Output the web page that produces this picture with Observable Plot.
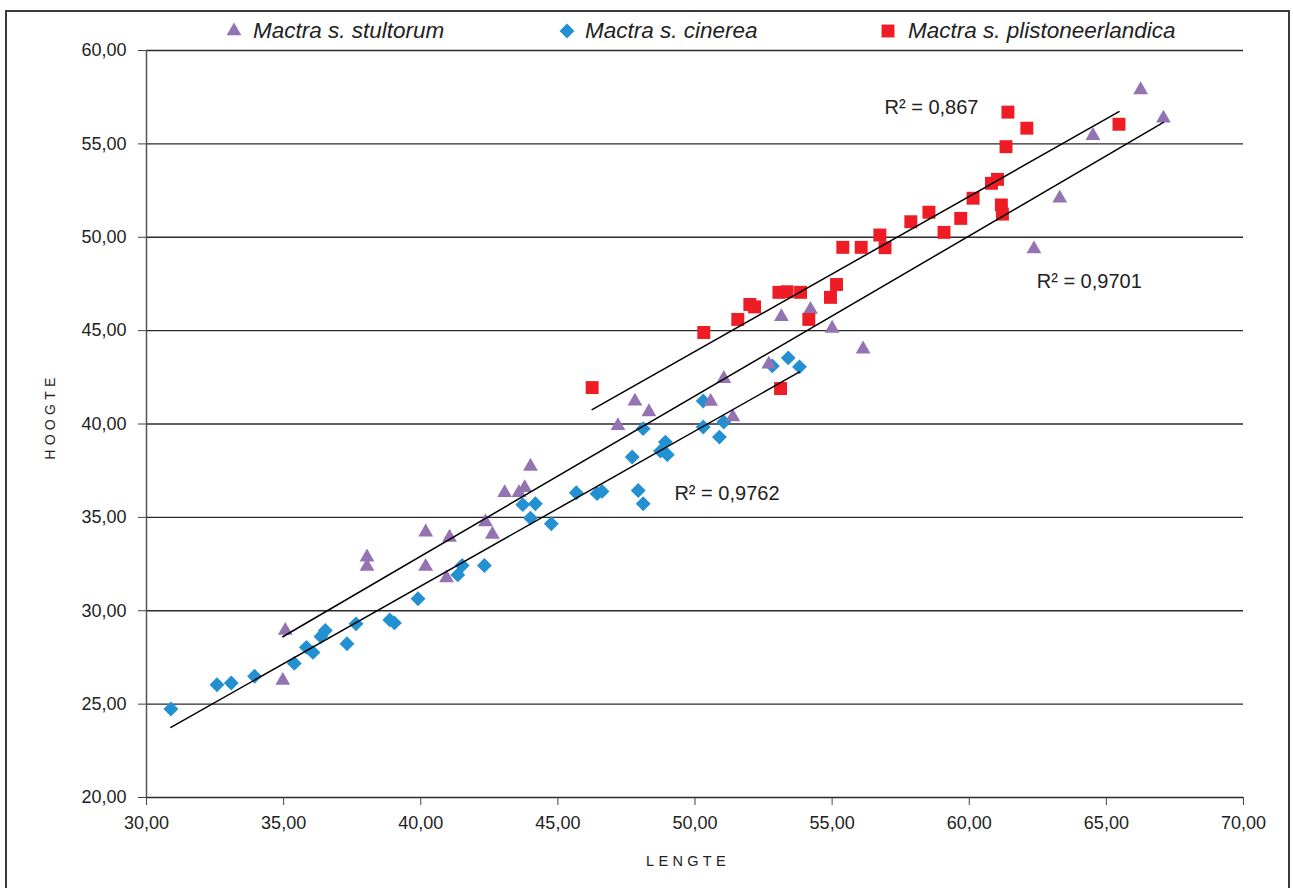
<!DOCTYPE html>
<html>
<head>
<meta charset="utf-8">
<script src="https://cdn.jsdelivr.net/npm/d3@7"></script>
<script src="https://cdn.jsdelivr.net/npm/@observablehq/plot@0.6"></script>
<style>
  html, body { margin: 0; padding: 0; background: #fff; overflow: hidden; }
  #wrap { position: relative; width: 1293px; height: 888px; font-family: "Liberation Sans", Arial, sans-serif; }
  #frame { position: absolute; left: 5px; top: 10px; width: 1285px; height: 900px; border: 2px solid #3a3a3a; box-sizing: border-box; pointer-events: none; }
  #chart { position: absolute; left: 0; top: 0; }
  .legend-item { position: absolute; top: 16px; height: 30px; display: flex; align-items: center; font-style: italic; font-size: 22.5px; color: #222; white-space: nowrap; }
  .spaced text { letter-spacing: 4.3px; }
</style>
</head>
<body>
<div id="wrap">
  <div id="chart"></div>
  <div id="legend"></div>
  <div id="frame"></div>
</div>
<script>
// ---- data (LENGTE = length, HOOGTE = height) ----
const species = ["Mactra s. stultorum", "Mactra s. cinerea", "Mactra s. plistoneerlandica"];

const stultorumL = [35.06,34.97,38.04,38.04,40.18,40.18,41.05,40.94,42.36,42.61,43.06,43.58,43.79,44.00,47.19,47.81,48.32,51.05,50.57,51.38,52.69,53.15,54.21,55.00,56.13,62.36,63.30,64.51,66.25,67.08];
const stultorumH = [28.94,26.26,32.87,32.37,34.21,32.37,33.93,31.76,34.75,34.09,36.32,36.32,36.59,37.73,39.91,41.22,40.65,42.43,41.20,40.37,43.20,45.74,46.13,45.12,44.01,49.37,52.09,55.44,57.89,56.37];

const cinereaL = [30.89,32.57,33.09,33.94,35.39,35.83,36.07,36.36,36.52,37.31,37.64,38.87,39.04,39.90,41.35,41.51,42.32,43.72,44.00,44.18,44.76,45.67,46.43,46.61,47.71,47.93,48.11,48.11,48.74,48.92,48.99,50.30,50.30,50.89,51.05,52.82,53.40,53.81];
const cinereaH = [24.74,26.04,26.13,26.49,27.18,28.04,27.77,28.62,28.94,28.23,29.30,29.51,29.35,30.64,31.92,32.42,32.42,35.68,34.96,35.73,34.66,36.32,36.27,36.39,38.23,36.44,35.73,39.75,38.55,39.03,38.36,41.23,39.84,39.30,40.11,43.11,43.54,43.06];

const plistL = [46.25,50.32,51.56,52.00,52.17,53.06,53.36,53.85,54.15,54.94,55.16,53.12,55.39,56.06,56.74,56.93,57.87,58.53,59.08,59.69,60.14,60.81,61.03,61.17,61.21,61.34,61.41,62.10,65.46];
const plistH = [41.95,44.90,45.60,46.40,46.27,47.05,47.08,47.05,45.60,46.78,47.47,41.90,49.46,49.46,50.12,49.44,50.83,51.34,50.26,51.01,52.09,52.89,53.10,51.73,51.24,54.85,56.70,55.84,56.05];

const xTicks = [30,35,40,45,50,55,60,65,70];
const yTicks = [20,25,30,35,40,45,50,55,60];

const r2Text = ["R² = 0,867", "R² = 0,9701", "R² = 0,9762"];
const r2L = [56.91, 62.46, 49.25];
const r2H = [56.93, 47.60, 36.28];

const colors = ["#9473b3", "#2390d2", "#ee1d25"];
const symbols = ["triangle", "diamond2", "square"];
const radii = [5.5, 6.7, 7.3];

// ---- build tables ----
const seriesL = [stultorumL, cinereaL, plistL];
const seriesH = [stultorumH, cinereaH, plistH];
const tables = species.map((s, i) => seriesL[i].map((L, j) => ({species: s, L, H: seriesH[i][j]})));
const allData = tables.flat();
const r2 = r2Text.map((t, i) => ({t, L: r2L[i], H: r2H[i]}));

const fmt = d => d.toFixed(2).replace(".", ",");
const drawOrder = [1, 0, 2];

const chart = Plot.plot({
  width: 1293,
  height: 888,
  marginLeft: 146,
  marginRight: 50,
  marginTop: 50,
  marginBottom: 91,
  style: {fontFamily: "'Liberation Sans', Arial, sans-serif", background: "transparent"},
  x: {domain: [30, 70]},
  y: {domain: [20, 60]},
  marks: [
    Plot.ruleY(yTicks, {stroke: "#2a2a2a", strokeWidth: 1.4}),
    Plot.ruleX([30], {stroke: "#555", strokeWidth: 1.5}),
    Plot.axisX(xTicks, {tickSize: 8, tickPadding: 11, fontSize: 18, tickFormat: fmt, stroke: "#444", fill: "#222", label: null}),
    Plot.axisY(yTicks, {tickSize: 8, tickPadding: 12, fontSize: 18, tickFormat: fmt, stroke: "#444", fill: "#222", label: null}),
    ...drawOrder.map(i => Plot.dot(tables[i], {x: "L", y: "H", symbol: () => symbols[i], r: radii[i], fill: colors[i], stroke: "none"})),
    Plot.linearRegressionY(allData, {x: "L", y: "H", z: "species", stroke: "#000", strokeWidth: 1.5, ci: 0}),
    Plot.text(r2, {x: "L", y: "H", text: "t", textAnchor: "start", fontSize: 20, fill: "#222"}),
    Plot.text(["HOOGTE"], {frameAnchor: "left", textAnchor: "middle", lineAnchor: "middle", dx: -96, dy: -7.5, rotate: -90, fontSize: 14, fill: "#222", className: "spaced"}),
    Plot.text(["LENGTE"], {frameAnchor: "bottom", textAnchor: "middle", lineAnchor: "middle", dx: -7, dy: 63.5, fontSize: 14.5, fill: "#222", className: "spaced"})
  ]
});
document.getElementById("chart").appendChild(chart);

// ---- legend ----
const legendSymbolX = [234, 567, 888];
const legendTextX = [253, 585, 908];
const symGen = [d3.symbolTriangle, d3.symbolDiamond2, d3.symbolSquare];
const legend = document.getElementById("legend");
species.forEach((s, i) => {
  const size = Math.PI * radii[i] * radii[i];
  const svg = d3.create("svg").attr("width", 24).attr("height", 24)
    .style("position", "absolute").style("left", (legendSymbolX[i] - 12) + "px").style("top", (31 - 12) + "px");
  svg.append("path").attr("transform", "translate(12,12)").attr("d", d3.symbol(symGen[i], size)()).attr("fill", colors[i]);
  legend.appendChild(svg.node());
  const div = document.createElement("div");
  div.className = "legend-item";
  div.style.left = legendTextX[i] + "px";
  div.textContent = s;
  legend.appendChild(div);
});
</script>
</body>
</html>
